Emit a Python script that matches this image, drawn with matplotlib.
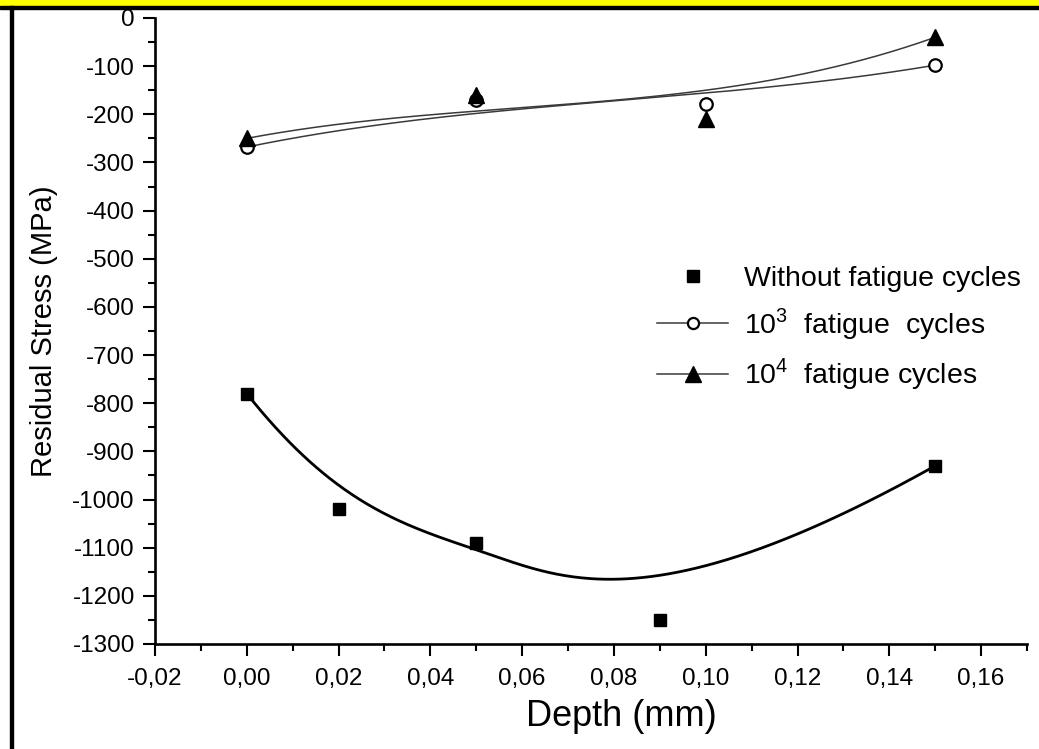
import numpy as np
import matplotlib
matplotlib.use("Agg")
import matplotlib.pyplot as plt
from matplotlib.patches import Rectangle
from matplotlib.ticker import MultipleLocator, FuncFormatter
from matplotlib.lines import Line2D

# ---- data ----
depth_without = [0.0, 0.02, 0.05, 0.09, 0.15]
stress_without = [-780, -1020, -1090, -1250, -930]

depth_1e3 = [0.0, 0.05, 0.10, 0.15]
stress_1e3 = [-268, -170, -178, -98]

depth_1e4 = [0.0, 0.05, 0.10, 0.15]
stress_1e4 = [-250, -160, -210, -40]

labels = ["Without fatigue cycles", r"10$^{3}$  fatigue  cycles", r"10$^{4}$  fatigue cycles"]

plt.rcParams['font.family'] = ['Liberation Sans', 'DejaVu Sans']
plt.rcParams['mathtext.fontset'] = 'custom'
plt.rcParams['mathtext.rm'] = 'Liberation Sans'


def bspline(xs, ys, degree=3, n=300):
    """Clamped uniform B-spline using the data points as control points."""
    P = np.column_stack([xs, ys]).astype(float)
    m = len(P)
    k = min(degree, m - 1)
    n_int = m - k - 1
    knots = np.concatenate([np.zeros(k + 1), np.linspace(0, 1, n_int + 2)[1:-1], np.ones(k + 1)])
    t = np.linspace(0, 1, n)
    t[-1] = 1 - 1e-12

    def N(i, p, u):
        if p == 0:
            return np.where((knots[i] <= u) & (u < knots[i + 1]), 1.0, 0.0)
        a = 0.0
        d1 = knots[i + p] - knots[i]
        if d1 > 0:
            a = (u - knots[i]) / d1 * N(i, p - 1, u)
        b = 0.0
        d2 = knots[i + p + 1] - knots[i + 1]
        if d2 > 0:
            b = (knots[i + p + 1] - u) / d2 * N(i + 1, p - 1, u)
        return a + b

    B = np.array([N(i, k, t) for i in range(m)])
    C = B.T @ P
    return C[:, 0], C[:, 1]


fig = plt.figure(figsize=(10.39, 7.49), dpi=100)
ax = fig.add_axes([155/1039, 1-644/749, (1027-155)/1039, (644-18)/749])

bx, by = bspline(depth_without, stress_without)
ax.plot(bx, by, color='black', lw=2.0, zorder=2)
ax.plot(depth_without, stress_without, 's', color='black', ms=8.5, zorder=3)

bx, by = bspline(depth_1e3, stress_1e3)
ax.plot(bx, by, color='#3a3a3a', lw=1.1, zorder=2)
ax.plot(depth_1e3, stress_1e3, 'o', mfc='white', mec='black', mew=1.6, ms=9, zorder=3)

bx, by = bspline(depth_1e4, stress_1e4)
ax.plot(bx, by, color='#3a3a3a', lw=1.1, zorder=2)
ax.plot(depth_1e4, stress_1e4, '^', color='black', ms=11, zorder=3)

ax.set_xlim(-0.02, 0.17)
ax.set_ylim(-1300, 0)
for s in ['top', 'right']:
    ax.spines[s].set_visible(False)
for s in ['left', 'bottom']:
    ax.spines[s].set_linewidth(1.9)

ax.xaxis.set_major_locator(MultipleLocator(0.02))
ax.xaxis.set_minor_locator(MultipleLocator(0.01))
ax.yaxis.set_major_locator(MultipleLocator(100))
ax.yaxis.set_minor_locator(MultipleLocator(50))
ax.xaxis.set_major_formatter(FuncFormatter(lambda v, p: f"{v:.2f}".replace('.', ',').replace('-0,00', '0,00')))
ax.yaxis.set_major_formatter(FuncFormatter(lambda v, p: f"{int(round(v))}"))
ax.tick_params(which='major', length=8.5, width=1.5, labelsize=17.5, direction='out')
ax.tick_params(which='minor', length=5, width=1.5, direction='out')
ax.tick_params(axis='x', pad=9)
ax.tick_params(axis='y', pad=6)

ax.set_xlabel("Depth (mm)", fontsize=26)
ax.xaxis.set_label_coords((621-155)/872, -0.088)
ax.set_ylabel("Residual Stress (MPa)", fontsize=21, labelpad=10)

handles = [
    Line2D([], [], ls='none', marker='s', color='black', ms=8.5),
    Line2D([], [], color='#3a3a3a', lw=1.1, marker='o', mfc='white', mec='black', mew=1.6, ms=8),
    Line2D([], [], color='#3a3a3a', lw=1.1, marker='^', mfc='black', mec='black', ms=11),
]
leg = ax.legend(handles, labels, loc='upper left', bbox_to_anchor=(657/1039, 1-266/749),
                bbox_transform=fig.transFigure, borderaxespad=0, borderpad=0,
                frameon=False, fontsize=20.5, handlelength=2.5, handletextpad=0.55,
                labelspacing=0.5)

# decorative page border
fig.patches.append(Rectangle((0, 1-6/749), 1, 6/749, transform=fig.transFigure, color='#ffff00', zorder=-1))
fig.patches.append(Rectangle((0, 1-9/749), 1, 3/749, transform=fig.transFigure, color='black', zorder=-1))
fig.patches.append(Rectangle((10/1039, 0), 3/1039, 1-6/749, transform=fig.transFigure, color='black', zorder=-1))

fig.savefig("out.png", dpi=100)
